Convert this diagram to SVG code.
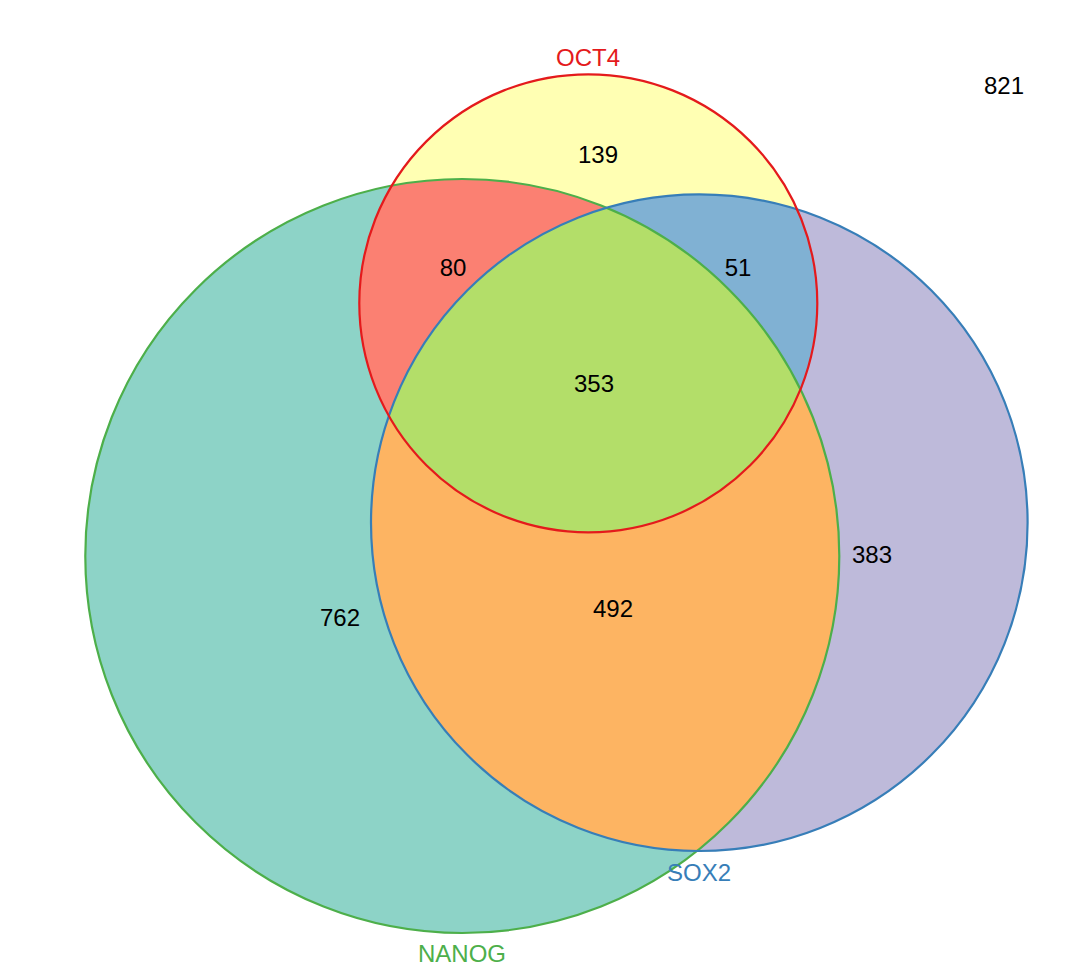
<svg xmlns="http://www.w3.org/2000/svg" width="1080" height="975" viewBox="0 0 1080 975">
<style>
text{font-family:"Liberation Sans",Arial,sans-serif;font-size:24px;text-anchor:middle;fill:#000}
.ol{fill:none;stroke-width:2.2}
</style>
<defs>
<circle id="cO" cx="588.3" cy="303.3" r="229"/>
<circle id="cN" cx="462.3" cy="556" r="377"/>
<circle id="cS" cx="699.3" cy="522.7" r="328.3"/>
<clipPath id="clN"><use href="#cN"/></clipPath>
<clipPath id="clS"><use href="#cS"/></clipPath>
</defs>
<rect width="1080" height="975" fill="#fff"/>
<g id="regions">
<use href="#cN" fill="#8DD3C7"/>
<use href="#cS" fill="#BEBADA"/>
<use href="#cO" fill="#FFFFB3"/>
<use href="#cS" fill="#FDB462" clip-path="url(#clN)"/>
<use href="#cO" fill="#FB8072" clip-path="url(#clN)"/>
<use href="#cO" fill="#80B1D3" clip-path="url(#clS)"/>
<g clip-path="url(#clS)"><use href="#cO" fill="#B3DE69" clip-path="url(#clN)"/></g>
</g>
<g id="outlines">
<use id="NANOG" href="#cN" class="ol" stroke="#4DAF4A"/>
<use id="SOX2" href="#cS" class="ol" stroke="#377EB8"/>
<use id="OCT4" href="#cO" class="ol" stroke="#E41A1C"/>
</g>
<g id="labels">
<text x="588" y="66" fill="#E41A1C" style="fill:#E41A1C">OCT4</text>
<text x="699" y="881" style="fill:#377EB8">SOX2</text>
<text x="462" y="962" style="fill:#4DAF4A">NANOG</text>
</g>
<g id="counts">
<text x="1004" y="94">821</text>
<text x="598" y="163">139</text>
<text x="453" y="276">80</text>
<text x="738" y="276">51</text>
<text x="594" y="392">353</text>
<text x="340" y="626">762</text>
<text x="613" y="617">492</text>
<text x="872" y="563">383</text>
</g>
</svg>
